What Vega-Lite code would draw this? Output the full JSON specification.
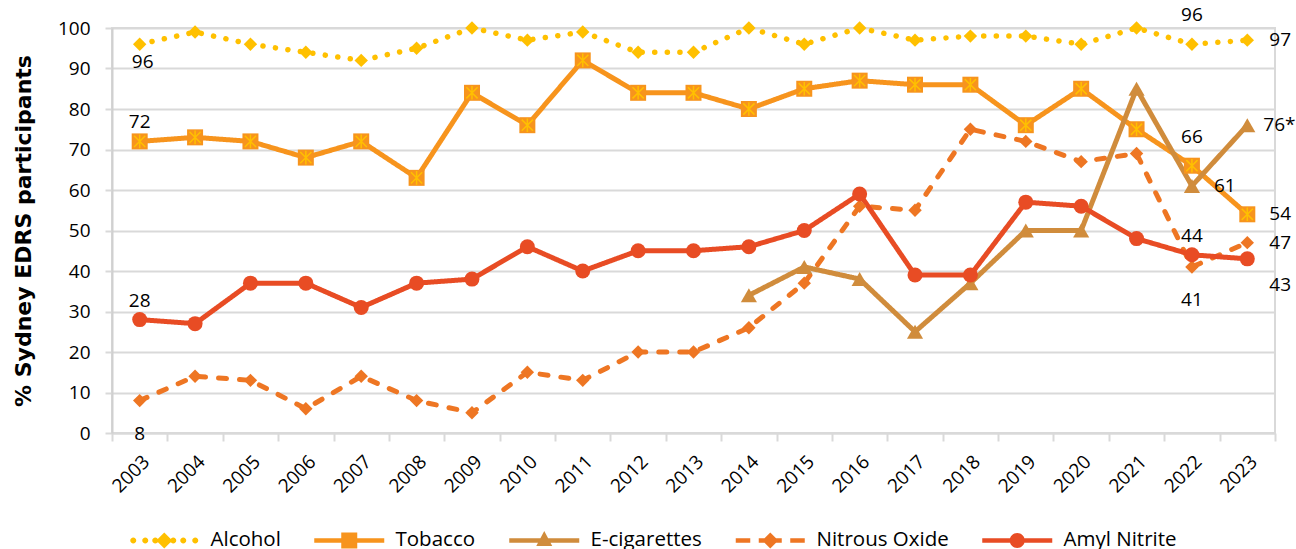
{
  "$schema": "https://vega.github.io/schema/vega-lite/v6.json",
  "width": 1163,
  "height": 405,
  "autosize": {"type": "none"},
  "padding": {"left": 112, "top": 28, "right": 21, "bottom": 116},
  "config": {
    "font": "Open Sans",
    "view": {"stroke": "#d9d9d9", "strokeWidth": 2},
    "text": {"font": "Open Sans", "fontSize": 19, "color": "#000000"},
    "axis": {"labelFont": "Open Sans", "labelColor": "#000000", "labelFontSize": 19, "titleFont": "Open Sans", "titleColor": "#000000"}
  },
  "datasets": {
    "series": [
      {"year": "2003", "series": "Alcohol", "value": 96}, {"year": "2004", "series": "Alcohol", "value": 99}, {"year": "2005", "series": "Alcohol", "value": 96}, {"year": "2006", "series": "Alcohol", "value": 94}, {"year": "2007", "series": "Alcohol", "value": 92}, {"year": "2008", "series": "Alcohol", "value": 95}, {"year": "2009", "series": "Alcohol", "value": 100}, {"year": "2010", "series": "Alcohol", "value": 97}, {"year": "2011", "series": "Alcohol", "value": 99}, {"year": "2012", "series": "Alcohol", "value": 94}, {"year": "2013", "series": "Alcohol", "value": 94}, {"year": "2014", "series": "Alcohol", "value": 100}, {"year": "2015", "series": "Alcohol", "value": 96}, {"year": "2016", "series": "Alcohol", "value": 100}, {"year": "2017", "series": "Alcohol", "value": 97}, {"year": "2018", "series": "Alcohol", "value": 98}, {"year": "2019", "series": "Alcohol", "value": 98}, {"year": "2020", "series": "Alcohol", "value": 96}, {"year": "2021", "series": "Alcohol", "value": 100}, {"year": "2022", "series": "Alcohol", "value": 96}, {"year": "2023", "series": "Alcohol", "value": 97},
      {"year": "2003", "series": "Tobacco", "value": 72}, {"year": "2004", "series": "Tobacco", "value": 73}, {"year": "2005", "series": "Tobacco", "value": 72}, {"year": "2006", "series": "Tobacco", "value": 68}, {"year": "2007", "series": "Tobacco", "value": 72}, {"year": "2008", "series": "Tobacco", "value": 63}, {"year": "2009", "series": "Tobacco", "value": 84}, {"year": "2010", "series": "Tobacco", "value": 76}, {"year": "2011", "series": "Tobacco", "value": 92}, {"year": "2012", "series": "Tobacco", "value": 84}, {"year": "2013", "series": "Tobacco", "value": 84}, {"year": "2014", "series": "Tobacco", "value": 80}, {"year": "2015", "series": "Tobacco", "value": 85}, {"year": "2016", "series": "Tobacco", "value": 87}, {"year": "2017", "series": "Tobacco", "value": 86}, {"year": "2018", "series": "Tobacco", "value": 86}, {"year": "2019", "series": "Tobacco", "value": 76}, {"year": "2020", "series": "Tobacco", "value": 85}, {"year": "2021", "series": "Tobacco", "value": 75}, {"year": "2022", "series": "Tobacco", "value": 66}, {"year": "2023", "series": "Tobacco", "value": 54},
      {"year": "2014", "series": "E-cigarettes", "value": 34}, {"year": "2015", "series": "E-cigarettes", "value": 41}, {"year": "2016", "series": "E-cigarettes", "value": 38}, {"year": "2017", "series": "E-cigarettes", "value": 25}, {"year": "2018", "series": "E-cigarettes", "value": 37}, {"year": "2019", "series": "E-cigarettes", "value": 50}, {"year": "2020", "series": "E-cigarettes", "value": 50}, {"year": "2021", "series": "E-cigarettes", "value": 85}, {"year": "2022", "series": "E-cigarettes", "value": 61}, {"year": "2023", "series": "E-cigarettes", "value": 76},
      {"year": "2003", "series": "Nitrous Oxide", "value": 8}, {"year": "2004", "series": "Nitrous Oxide", "value": 14}, {"year": "2005", "series": "Nitrous Oxide", "value": 13}, {"year": "2006", "series": "Nitrous Oxide", "value": 6}, {"year": "2007", "series": "Nitrous Oxide", "value": 14}, {"year": "2008", "series": "Nitrous Oxide", "value": 8}, {"year": "2009", "series": "Nitrous Oxide", "value": 5}, {"year": "2010", "series": "Nitrous Oxide", "value": 15}, {"year": "2011", "series": "Nitrous Oxide", "value": 13}, {"year": "2012", "series": "Nitrous Oxide", "value": 20}, {"year": "2013", "series": "Nitrous Oxide", "value": 20}, {"year": "2014", "series": "Nitrous Oxide", "value": 26}, {"year": "2015", "series": "Nitrous Oxide", "value": 37}, {"year": "2016", "series": "Nitrous Oxide", "value": 56}, {"year": "2017", "series": "Nitrous Oxide", "value": 55}, {"year": "2018", "series": "Nitrous Oxide", "value": 75}, {"year": "2019", "series": "Nitrous Oxide", "value": 72}, {"year": "2020", "series": "Nitrous Oxide", "value": 67}, {"year": "2021", "series": "Nitrous Oxide", "value": 69}, {"year": "2022", "series": "Nitrous Oxide", "value": 41}, {"year": "2023", "series": "Nitrous Oxide", "value": 47},
      {"year": "2003", "series": "Amyl Nitrite", "value": 28}, {"year": "2004", "series": "Amyl Nitrite", "value": 27}, {"year": "2005", "series": "Amyl Nitrite", "value": 37}, {"year": "2006", "series": "Amyl Nitrite", "value": 37}, {"year": "2007", "series": "Amyl Nitrite", "value": 31}, {"year": "2008", "series": "Amyl Nitrite", "value": 37}, {"year": "2009", "series": "Amyl Nitrite", "value": 38}, {"year": "2010", "series": "Amyl Nitrite", "value": 46}, {"year": "2011", "series": "Amyl Nitrite", "value": 40}, {"year": "2012", "series": "Amyl Nitrite", "value": 45}, {"year": "2013", "series": "Amyl Nitrite", "value": 45}, {"year": "2014", "series": "Amyl Nitrite", "value": 46}, {"year": "2015", "series": "Amyl Nitrite", "value": 50}, {"year": "2016", "series": "Amyl Nitrite", "value": 59}, {"year": "2017", "series": "Amyl Nitrite", "value": 39}, {"year": "2018", "series": "Amyl Nitrite", "value": 39}, {"year": "2019", "series": "Amyl Nitrite", "value": 57}, {"year": "2020", "series": "Amyl Nitrite", "value": 56}, {"year": "2021", "series": "Amyl Nitrite", "value": 48}, {"year": "2022", "series": "Amyl Nitrite", "value": 44}, {"year": "2023", "series": "Amyl Nitrite", "value": 43}
    ],
    "labels": [
      {"year": "2003", "series": "Alcohol", "value": 96, "label": "96", "pos": "below"},
      {"year": "2003", "series": "Tobacco", "value": 72, "label": "72", "pos": "above"},
      {"year": "2003", "series": "Amyl Nitrite", "value": 28, "label": "28", "pos": "above"},
      {"year": "2003", "series": "Nitrous Oxide", "value": 8, "label": "8", "pos": "below2"},
      {"year": "2022", "series": "Alcohol", "value": 96, "label": "96", "pos": "above2"},
      {"year": "2022", "series": "Tobacco", "value": 66, "label": "66", "pos": "above2"},
      {"year": "2022", "series": "E-cigarettes", "value": 61, "label": "61", "pos": "right"},
      {"year": "2022", "series": "Nitrous Oxide", "value": 41, "label": "41", "pos": "below2"},
      {"year": "2022", "series": "Amyl Nitrite", "value": 44, "label": "44", "pos": "above"},
      {"year": "2023", "series": "Alcohol", "value": 97, "label": "97", "pos": "right"},
      {"year": "2023", "series": "Tobacco", "value": 54, "label": "54", "pos": "right"},
      {"year": "2023", "series": "E-cigarettes", "value": 76, "label": "76*", "pos": "rightnear"},
      {"year": "2023", "series": "Nitrous Oxide", "value": 47, "label": "47", "pos": "right"},
      {"year": "2023", "series": "Amyl Nitrite", "value": 43, "label": "43", "pos": "rightbelow"}
    ]
  },
  "layer": [
    {
      "data": {"name": "series"},
      "transform": [{"filter": "datum.series !== 'Alcohol'"}],
      "mark": {"type": "line", "strokeWidth": 5, "strokeCap": "round", "strokeJoin": "round"},
      "encoding": {
        "x": {
          "field": "year", "type": "ordinal", "bandPosition": 0.5,
          "scale": {"type": "band", "paddingInner": 0, "paddingOuter": 0},
          "axis": {"title": null, "labelAngle": -45, "labelFontSize": 19, "labelPadding": 11, "tickBand": "extent", "tickSize": 8, "tickColor": "#d9d9d9", "tickWidth": 2, "domainColor": "#d9d9d9", "domainWidth": 2, "grid": false}
        },
        "y": {
          "field": "value", "type": "quantitative",
          "scale": {"domain": [0, 100], "nice": false},
          "axis": {"title": "% Sydney EDRS participants", "titleFont": "DejaVu Sans", "titleFontSize": 22, "titleFontWeight": "bold", "titlePadding": 22, "values": [0, 10, 20, 30, 40, 50, 60, 70, 80, 90, 100], "tickSize": 7, "labelPadding": 15, "tickColor": "#d9d9d9", "tickWidth": 2, "domainColor": "#d0d0d0", "domainWidth": 2, "gridColor": "#d9d9d9", "gridWidth": 2}
        },
        "color": {
          "field": "series", "type": "nominal",
          "scale": {"domain": ["Alcohol", "Tobacco", "E-cigarettes", "Nitrous Oxide", "Amyl Nitrite"], "range": ["#FFC000", "#F7941D", "#D08C3C", "#EE7623", "#E84C24"]},
          "legend": {
            "orient": "none", "direction": "horizontal", "legendX": 42, "legendY": 502, "title": null,
            "symbolType": "M-7,-0.45L7,-0.45L7,0.45L-7,0.45Z", "symbolSize": 100, "symbolStrokeWidth": 0,
            "labelFontSize": 20.5, "labelFont": "Open Sans", "labelColor": "#000000", "labelOffset": 36, "columnPadding": 33,
            "encode": {
              "symbols": {
                "update": {
                  "shape": {"signal": "datum.value === 'Alcohol' ? 'M-6.8,0A0.6,0.6 0 1,1 -5.6,0A0.6,0.6 0 1,1 -6.8,0ZM-4.4,0A0.6,0.6 0 1,1 -3.2,0A0.6,0.6 0 1,1 -4.4,0ZM-2.4,0A0.6,0.6 0 1,1 -1.2,0A0.6,0.6 0 1,1 -2.4,0ZM1.2,0A0.6,0.6 0 1,1 2.4,0A0.6,0.6 0 1,1 1.2,0ZM3.2,0A0.6,0.6 0 1,1 4.4,0A0.6,0.6 0 1,1 3.2,0ZM5.6,0A0.6,0.6 0 1,1 6.8,0A0.6,0.6 0 1,1 5.6,0ZM0,-1.6L1.6,0L0,1.6L-1.6,0Z' : datum.value === 'Tobacco' ? 'M-7,-0.45L7,-0.45L7,0.45L-7,0.45ZM-1.6,-1.6L1.6,-1.6L1.6,1.6L-1.6,1.6Z' : datum.value === 'E-cigarettes' ? 'M-7,-0.45L7,-0.45L7,0.45L-7,0.45ZM0,-1.9L1.6,1.1L-1.6,1.1Z' : datum.value === 'Nitrous Oxide' ? 'M-6.9,-0.45L-4,-0.45L-4,0.45L-6.9,0.45ZM4,-0.45L6.9,-0.45L6.9,0.45L4,0.45ZM-2.3,-0.45L2.3,-0.45L2.3,0.45L-2.3,0.45ZM0,-1.6L1.6,0L0,1.6L-1.6,0Z' : 'M-7,-0.45L7,-0.45L7,0.45L-7,0.45ZM-1.5,0A1.5,1.5 0 1,1 1.5,0A1.5,1.5 0 1,1 -1.5,0Z'"},
                  "strokeWidth": {"value": 0},
                  "fill": {"scale": "color", "field": "value"},
                  "fillOpacity": {"value": 1},
                  "opacity": {"value": 1}
                }
              }
            }
          }
        },
        "strokeDash": {
          "field": "series", "type": "nominal",
          "scale": {"domain": ["Tobacco", "E-cigarettes", "Nitrous Oxide", "Amyl Nitrite"], "range": [[1, 0], [1, 0], [8, 13], [1, 0]]},
          "legend": null
        }
      }
    },
    {
      "data": {"name": "series"},
      "transform": [{"filter": "datum.series === 'Alcohol'"}],
      "mark": {"type": "line", "strokeWidth": 5.5, "strokeCap": "round", "strokeDash": [0.1, 12.5], "color": "#FFC000"},
      "encoding": {
        "x": {"field": "year", "type": "ordinal", "bandPosition": 0.5},
        "y": {"field": "value", "type": "quantitative"}
      }
    },
    {
      "data": {"name": "series"},
      "transform": [{"filter": "datum.series === 'Alcohol' || datum.series === 'Nitrous Oxide'"}],
      "mark": {"type": "point", "filled": true, "opacity": 1, "shape": "diamond", "size": 180},
      "encoding": {
        "x": {"field": "year", "type": "ordinal", "bandPosition": 0.5},
        "y": {"field": "value", "type": "quantitative"},
        "color": {"field": "series", "type": "nominal"}
      }
    },
    {
      "data": {"name": "series"},
      "transform": [{"filter": "datum.series === 'Tobacco'"}],
      "mark": {"type": "point", "filled": true, "opacity": 1, "shape": "square", "size": 256, "color": "#F7941D"},
      "encoding": {
        "x": {"field": "year", "type": "ordinal", "bandPosition": 0.5},
        "y": {"field": "value", "type": "quantitative"}
      }
    },
    {
      "data": {"name": "series"},
      "transform": [{"filter": "datum.series === 'E-cigarettes'"}],
      "mark": {"type": "point", "filled": true, "opacity": 1, "shape": "triangle-up", "size": 260, "color": "#D08C3C"},
      "encoding": {
        "x": {"field": "year", "type": "ordinal", "bandPosition": 0.5},
        "y": {"field": "value", "type": "quantitative"}
      }
    },
    {
      "data": {"name": "series"},
      "transform": [{"filter": "datum.series === 'Amyl Nitrite'"}],
      "mark": {"type": "point", "filled": true, "opacity": 1, "shape": "circle", "size": 225, "color": "#E84C24"},
      "encoding": {
        "x": {"field": "year", "type": "ordinal", "bandPosition": 0.5},
        "y": {"field": "value", "type": "quantitative"}
      }
    },
    {
      "data": {"name": "series"},
      "transform": [{"filter": "datum.series === 'Tobacco'"}],
      "mark": {"type": "point", "filled": false, "shape": "M-0.7,-0.7L0.7,0.7M-0.7,0.7L0.7,-0.7M0,-0.85L0,0.85", "size": 256, "stroke": "#FFC000", "strokeWidth": 1.5, "opacity": 1},
      "encoding": {
        "x": {"field": "year", "type": "ordinal", "bandPosition": 0.5},
        "y": {"field": "value", "type": "quantitative"}
      }
    },
    {
      "mark": {"type": "rule", "color": "#a6a6a6", "strokeWidth": 1.5},
      "encoding": {
        "x": {"datum": "2023", "type": "ordinal", "bandPosition": 0.5},
        "y": {"datum": 41.5, "type": "quantitative"},
        "y2": {"datum": 37.3}
      }
    },
    {
      "mark": {"type": "tick", "color": "#a6a6a6", "thickness": 1.5, "size": 13, "orient": "horizontal", "xOffset": 6},
      "encoding": {
        "x": {"datum": "2023", "type": "ordinal", "bandPosition": 0.5},
        "y": {"datum": 37.3, "type": "quantitative"}
      }
    },
    {
      "data": {"name": "labels"},
      "transform": [{"filter": "datum.pos === 'above'"}],
      "mark": {"type": "text", "dy": -19, "baseline": "middle", "align": "center"},
      "encoding": {"x": {"field": "year", "type": "ordinal", "bandPosition": 0.5}, "y": {"field": "value", "type": "quantitative"}, "text": {"field": "label"}}
    },
    {
      "data": {"name": "labels"},
      "transform": [{"filter": "datum.pos === 'above2'"}],
      "mark": {"type": "text", "dy": -29, "baseline": "middle", "align": "center"},
      "encoding": {"x": {"field": "year", "type": "ordinal", "bandPosition": 0.5}, "y": {"field": "value", "type": "quantitative"}, "text": {"field": "label"}}
    },
    {
      "data": {"name": "labels"},
      "transform": [{"filter": "datum.pos === 'below'"}],
      "mark": {"type": "text", "dy": 18, "dx": 3, "baseline": "middle", "align": "center"},
      "encoding": {"x": {"field": "year", "type": "ordinal", "bandPosition": 0.5}, "y": {"field": "value", "type": "quantitative"}, "text": {"field": "label"}}
    },
    {
      "data": {"name": "labels"},
      "transform": [{"filter": "datum.pos === 'below2'"}],
      "mark": {"type": "text", "dy": 33, "baseline": "middle", "align": "center"},
      "encoding": {"x": {"field": "year", "type": "ordinal", "bandPosition": 0.5}, "y": {"field": "value", "type": "quantitative"}, "text": {"field": "label"}}
    },
    {
      "data": {"name": "labels"},
      "transform": [{"filter": "datum.pos === 'right'"}],
      "mark": {"type": "text", "dx": 22, "baseline": "middle", "align": "left"},
      "encoding": {"x": {"field": "year", "type": "ordinal", "bandPosition": 0.5}, "y": {"field": "value", "type": "quantitative"}, "text": {"field": "label"}}
    },
    {
      "data": {"name": "labels"},
      "transform": [{"filter": "datum.pos === 'rightnear'"}],
      "mark": {"type": "text", "dx": 16, "baseline": "middle", "align": "left"},
      "encoding": {"x": {"field": "year", "type": "ordinal", "bandPosition": 0.5}, "y": {"field": "value", "type": "quantitative"}, "text": {"field": "label"}}
    },
    {
      "data": {"name": "labels"},
      "transform": [{"filter": "datum.pos === 'rightbelow'"}],
      "mark": {"type": "text", "dx": 22, "dy": 26, "baseline": "middle", "align": "left"},
      "encoding": {"x": {"field": "year", "type": "ordinal", "bandPosition": 0.5}, "y": {"field": "value", "type": "quantitative"}, "text": {"field": "label"}}
    }
  ]
}
